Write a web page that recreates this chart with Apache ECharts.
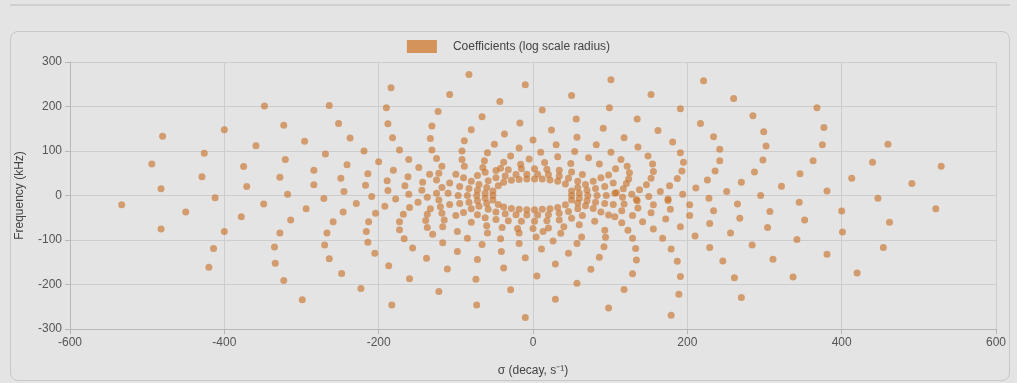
<!DOCTYPE html>
<html><head><meta charset="utf-8">
<script src="https://cdn.jsdelivr.net/npm/echarts@6/dist/echarts.min.js"></script>
<style>
html,body{margin:0;padding:0;background:#e4e4e4;width:1017px;height:383px;overflow:hidden;font-family:"Liberation Sans",Arial,sans-serif;}
#topline{position:absolute;left:10px;top:4px;width:1000px;height:2px;background:#d0d0d0;}
#frame{position:absolute;left:10px;top:31px;width:998px;height:348px;border:1px solid #c8c8c8;border-radius:8px;}
#chart{position:absolute;left:0;top:0;width:1017px;height:383px;}
</style></head><body>
<div id="topline"></div><div id="frame"></div><div id="chart"></div>
<script>
// [sigma (s^-1), frequency (kHz)]
const farLeft = [[-480,133],[-400,148],[-426,95],[-494,71],[-375,65],[-429,42],[-482,15],[-371,20],[-412,-5],[-533,-21],[-450,-37],[-378,-48],[-482,-75],[-400,-81],[-414,-119],[-420,-161]];
const midLeftUpper = [[-184,242],[-348,201],[-264,202],[-190,197],[-323,158],[-252,162],[-188,161],[-131,156],[-359,112],[-296,122],[-237,129],[-182,130],[-133,128],[-269,93],[-219,100],[-173,102],[-131,102],[-321,81],[-200,76],[-161,81],[-148,63],[-241,69],[-284,57],[-181,57],[-134,48],[-214,49],[-328,41],[-249,39],[-162,42],[-189,33],[-143,30],[-284,24],[-217,23],[-166,22],[-144,12],[-318,3],[-245,9],[-188,11],[-161,3],[-209,-2],[-271,-7],[-178,-8],[-137,-4]];
const midLeftLower = [[-349,-19],[-294,-30],[-229,-18],[-192,-24],[-160,-27],[-149,-15],[-133,-30],[-246,-37],[-204,-40],[-168,-42],[-137,-42],[-314,-55],[-259,-59],[-213,-59],[-173,-59],[-139,-56],[-328,-84],[-267,-84],[-216,-81],[-173,-77],[-137,-72],[-130,-87],[-335,-116],[-270,-111],[-214,-105],[-167,-97],[-205,-130],[-156,-118],[-334,-152],[-264,-142],[-187,-158],[-138,-141],[-323,-191],[-248,-175],[-223,-209],[-160,-187],[-299,-234],[-183,-246]];
const centerUpper = [[-83,272],[-10,249],[101,260],[-108,227],[-43,211],[50,225],[-123,189],[-66,177],[12,192],[99,197],[-80,148],[-17,163],[56,172],[-37,138],[24,147],[91,151],[-89,123],[-50,115],[0,125],[57,131],[-92,100],[-18,107],[30,114],[82,114],[-59,96],[-29,89],[10,97],[54,99],[101,97],[-125,83],[-92,81],[-63,78],[-38,75],[-5,82],[32,87],[72,85],[-118,66],[-89,66],[-65,63],[-42,61],[-16,70],[15,74],[49,72],[86,71],[107,60]];
const centerLower = [[-117,-106],[-98,-126],[-72,-144],[-41,-126],[-66,-110],[-18,-108],[-10,-140],[11,-120],[29,-154],[46,-130],[57,-108],[26,-102],[-111,-165],[-74,-188],[-38,-163],[5,-181],[57,-197],[75,-166],[86,-139],[92,-115],[-122,-216],[-29,-212],[29,-233],[-73,-246],[-10,-274],[98,-253],[-98,-81],[-85,-96],[-42,-97],[-59,-84],[-18,-84],[4,-93],[13,-81],[36,-85],[63,-93],[94,-94],[93,-78]];
const centerCore = [[-45,22],[-38,30],[-28,34],[-18,36],[-8,37],[2,37],[12,37],[22,35],[32,32],[42,26],[-45,-20],[-38,-26],[-28,-29],[-18,-31],[-8,-32],[2,-32],[12,-31],[22,-30],[32,-27],[42,-21],[-58,33],[-48,40],[-36,44],[-22,47],[-8,48],[6,48],[20,47],[34,44],[46,39],[58,32],[-58,-31],[-48,-37],[-36,-41],[-22,-43],[-8,-44],[6,-44],[20,-43],[34,-40],[46,-36],[58,-30],[-72,45],[-62,52],[-48,56],[-32,58],[-15,60],[2,60],[18,59],[34,57],[50,53],[64,47],[-72,-43],[-62,-50],[-48,-54],[-32,-57],[-15,-58],[2,-58],[18,-57],[34,-55],[50,-51],[64,-45],[-80,-60],[-60,-68],[-40,-72],[-20,-74],[0,-74],[20,-73],[40,-70],[60,-66],[80,-58]];
const centerLeftLobe = [[-52,10],[-52,0],[-52,-10],[-60,18],[-62,5],[-62,-6],[-60,-18],[-70,25],[-72,12],[-73,0],[-72,-12],[-70,-24],[-80,32],[-83,16],[-85,0],[-83,-15],[-80,-30],[-90,40],[-95,20],[-97,0],[-95,-18],[-90,-38],[-100,48],[-108,28],[-110,5],[-108,-20],[-100,-45],[-122,50],[-125,35],[-118,18],[-125,5],[-122,-10],[-120,-25],[-118,-40],[-115,-55],[-117,-70]];
const centerRightLobe = [[50,10],[50,0],[50,-10],[58,18],[60,5],[60,-6],[58,-17],[68,25],[70,12],[71,0],[70,-12],[68,-23],[78,32],[81,16],[83,0],[81,-15],[78,-29],[88,40],[93,20],[95,0],[93,-18],[88,-37],[98,46],[104,28],[106,5],[104,-20],[98,-44]];
const midRightUpper = [[221,258],[153,227],[260,218],[191,195],[135,172],[285,179],[217,162],[162,146],[299,143],[118,130],[234,132],[181,120],[302,111],[136,109],[242,104],[191,96],[149,89],[114,81],[242,78],[298,80],[195,75],[155,71],[122,66],[236,55],[287,53],[346,49],[193,55],[156,54],[125,51],[187,38],[153,39],[124,37],[226,35],[270,30],[322,21],[147,24],[121,27],[117,15],[177,22],[211,17],[138,13],[165,9],[251,9],[108,6],[128,3],[194,3],[150,-2],[295,0],[116,-4],[175,-8],[228,-6],[134,-9]];
const midRightLower = [[345,-15],[118,-19],[135,-12],[156,-21],[175,-11],[203,-21],[234,-34],[265,-19],[307,-36],[115,-34],[136,-28],[153,-39],[178,-31],[106,-48],[129,-45],[203,-45],[268,-51],[352,-55],[115,-61],[142,-59],[172,-53],[229,-63],[191,-70],[123,-78],[156,-75],[304,-72],[256,-84],[210,-91],[129,-96],[168,-96],[342,-99],[284,-111],[133,-119],[179,-120],[229,-117],[134,-145],[187,-148],[246,-147],[311,-143],[129,-176],[191,-182],[261,-185],[337,-183],[118,-211],[189,-222],[270,-229],[179,-269]];
const farRight = [[368,197],[377,153],[375,114],[460,115],[363,78],[440,75],[529,66],[413,39],[491,27],[381,10],[447,-6],[522,-30],[400,-35],[462,-60],[401,-82],[454,-117],[381,-132],[420,-174]];

const seriesName = 'Coefficients (log scale radius)';
const xTicks = {min:-600, max:600, step:200};
const yTicks = {min:-300, max:300, step:100};

const points = [].concat(farLeft, midLeftUpper, midLeftLower, centerUpper, centerLower, centerCore, centerLeftLobe, centerRightLobe, midRightUpper, midRightLower, farRight);

const chart = echarts.init(document.getElementById('chart'), null, {renderer:'canvas'});
const axisCommon = {
  axisLine:{show:true, onZero:false, lineStyle:{color:'#b8b8b8'}},
  axisTick:{show:true, length:5, lineStyle:{color:'#b8b8b8'}},
  axisLabel:{color:'#555', fontSize:12, fontFamily:'Liberation Sans'},
  splitLine:{show:true, lineStyle:{color:'#cdcdcd', width:1}},
  nameTextStyle:{color:'#444', fontSize:12, fontFamily:'Liberation Sans'}
};
chart.setOption({
  backgroundColor:'transparent',
  animation:false,
  legend:{top:35, left:'center', itemWidth:30, itemHeight:13, itemGap:10,
    icon:'rect',
    itemStyle:{color:'#d4935a', opacity:1},
    textStyle:{color:'#444', fontSize:12, fontFamily:'Liberation Sans', padding:[0,0,0,11]},
    data:[seriesName]},
  grid:{left:70, right:21, top:62, bottom:54, containLabel:false},
  xAxis:Object.assign({type:'value', min:xTicks.min, max:xTicks.max, interval:xTicks.step,
    name:'\u03c3 (decay, s\u207b\u00b9)', nameLocation:'middle', nameGap:36}, axisCommon),
  yAxis:Object.assign({type:'value', min:yTicks.min, max:yTicks.max, interval:yTicks.step,
    name:'Frequency (kHz)', nameLocation:'middle', nameGap:44}, axisCommon),
  series:[{
    name:seriesName, type:'scatter', symbolSize:7,
    itemStyle:{color:'rgba(200,115,45,0.8)'},
    data:points
  }]
});
</script>
</body></html>
